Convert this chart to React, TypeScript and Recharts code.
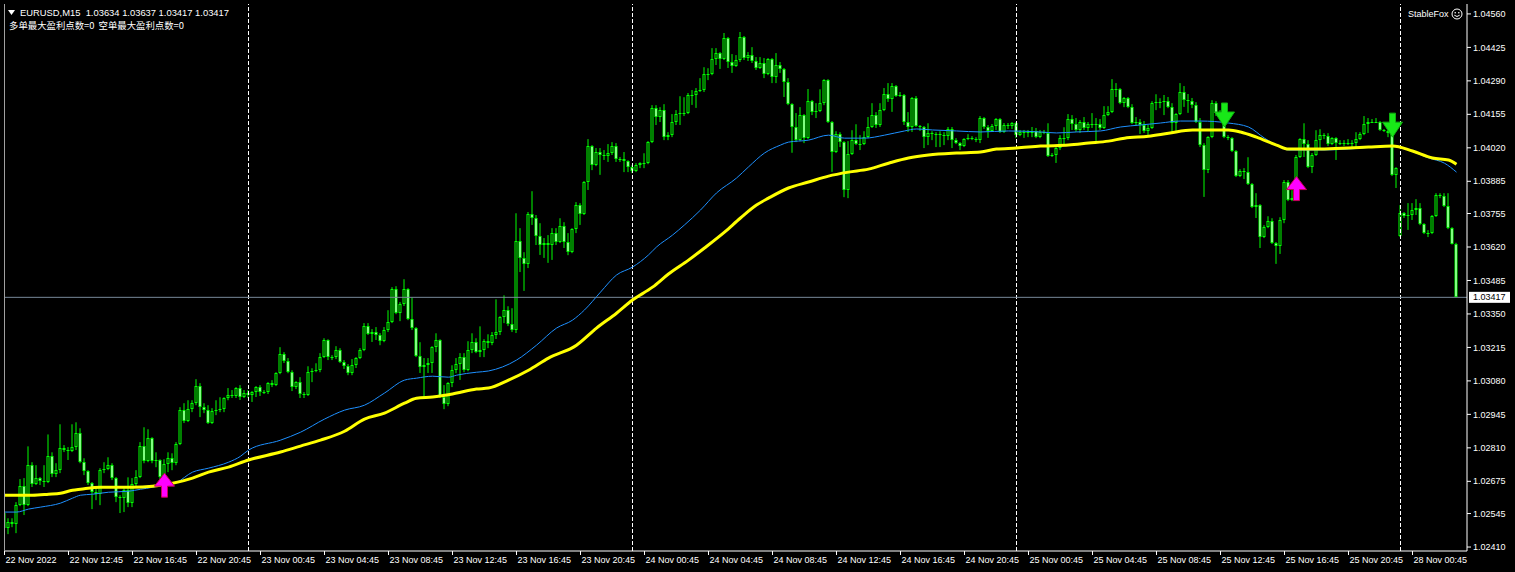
import { ComposedChart, XAxis, YAxis, Bar, Line, Scatter, ReferenceLine } from 'recharts';

// prices are stored as points: 1.0xxxx -> xxxx
const firstOpen = 2547;
const weekendGap: [number, number][] = [[349, 3664]];

const closes = [
  2486, 2510, 2502, 2579, 2656, 2579, 2740, 2664, 2688, 2676, 2672, 2776, 2704, 2720, 2809, 2801, 2797, 2813, 2869, 2752,
  2716, 2668, 2631, 2623, 2720, 2724, 2740, 2688, 2611, 2607, 2639, 2587, 2664, 2692, 2817, 2756, 2849, 2756, 2760, 2692,
  2744, 2768, 2748, 2825, 2962, 2918, 2966, 2990, 3059, 2974, 2962, 2910, 2958, 2962, 2966, 3010, 3023, 3019, 3051, 3015,
  3031, 3023, 3035, 3055, 3035, 3035, 3071, 3063, 3111, 3188, 3160, 3115, 3055, 3075, 3027, 3023, 3115, 3119, 3123, 3176,
  3244, 3176, 3176, 3204, 3156, 3140, 3111, 3144, 3172, 3204, 3301, 3269, 3277, 3265, 3240, 3285, 3317, 3450, 3353, 3390,
  3450, 3329, 3293, 3180, 3136, 3144, 3152, 3216, 3244, 3015, 2986, 3071, 3123, 3148, 3176, 3123, 3204, 3236, 3196, 3204,
  3240, 3232, 3265, 3277, 3337, 3365, 3309, 3285, 3644, 3575, 3551, 3753, 3737, 3664, 3628, 3636, 3628, 3676, 3640, 3704,
  3640, 3599, 3692, 3789, 3753, 3882, 4027, 3950, 4003, 3991, 3987, 3999, 4027, 3975, 3975, 3966, 3942, 3926, 3950, 3958,
  3958, 4043, 4180, 4144, 4172, 4063, 4071, 4124, 4156, 4160, 4160, 4233, 4233, 4249, 4253, 4317, 4317, 4378, 4402, 4378,
  4463, 4366, 4350, 4374, 4467, 4382, 4394, 4370, 4342, 4362, 4317, 4378, 4305, 4354, 4338, 4285, 4196, 4104, 4051, 4152,
  4059, 4209, 4164, 4168, 4200, 4293, 4124, 4003, 4075, 4043, 3849, 3995, 4051, 4035, 4035, 4063, 4104, 4152, 4112, 4172,
  4237, 4217, 4269, 4229, 4233, 4124, 4104, 4221, 4108, 4104, 4063, 4079, 4075, 4075, 4071, 4067, 4096, 4051, 4039, 4027,
  4055, 4059, 4055, 4051, 4140, 4104, 4088, 4108, 4136, 4084, 4112, 4108, 4120, 4071, 4084, 4084, 4079, 4088, 4063, 4084,
  4079, 3987, 3991, 4019, 4059, 4059, 4136, 4116, 4092, 4124, 4100, 4116, 4116, 4116, 4100, 4152, 4164, 4257, 4257, 4200,
  4221, 4184, 4120, 4124, 4112, 4088, 4100, 4200, 4204, 4204, 4209, 4184, 4120, 4156, 4245, 4213, 4209, 4192, 4124, 4031,
  3930, 4063, 4200, 4160, 4156, 4063, 4059, 4007, 3906, 3926, 3922, 3874, 3781, 3789, 3660, 3700, 3724, 3636, 3624, 3728,
  3882, 3809, 3817, 3983, 4055, 4035, 3942, 3991, 4051, 4071, 4067, 4035, 4059, 4039, 4039, 4035, 4039, 4039, 4055, 4075,
  4116, 4124, 4124, 4124, 4092, 4088, 4079, 3910, 3938, 3757, 3745, 3749, 3769, 3777, 3712, 3676, 3676, 3745, 3829, 3825,
  3785, 3696, 3634, 3417,
];

// wick lengths above / below the body, in points
const wickUp = [
  24, 16, 16, 12, 28, 32, 76, 12, 52, 4, 64, 88, 16, 28, 96, 12, 12, 92, 44, 20,
  16, 4, 4, 16, 8, 28, 32, 8, 4, 8, 8, 52, 24, 28, 16, 76, 36, 4, 32, 4,
  20, 24, 20, 8, 12, 28, 36, 12, 28, 12, 16, 20, 12, 40, 48, 4, 28, 20, 4, 12,
  12, 12, 4, 4, 8, 8, 4, 12, 4, 28, 8, 12, 8, 4, 20, 8, 24, 12, 28, 16,
  8, 4, 8, 16, 8, 8, 8, 24, 4, 8, 12, 12, 12, 20, 8, 12, 48, 8, 12, 8,
  40, 4, 88, 4, 56, 28, 20, 4, 28, 4, 48, 4, 20, 24, 16, 16, 36, 36, 16, 96,
  8, 28, 12, 132, 4, 60, 16, 64, 112, 52, 24, 8, 92, 12, 52, 20, 32, 20, 20, 32,
  16, 36, 4, 12, 8, 4, 28, 4, 16, 16, 20, 36, 16, 12, 8, 28, 4, 8, 8, 4,
  40, 4, 12, 12, 12, 24, 12, 32, 16, 68, 64, 8, 20, 12, 48, 28, 24, 44, 20, 4,
  20, 4, 32, 20, 20, 4, 12, 32, 16, 24, 20, 4, 4, 48, 12, 4, 16, 4, 56, 32,
  4, 48, 4, 32, 56, 4, 4, 4, 12, 8, 4, 52, 40, 64, 36, 24, 40, 48, 12, 28,
  24, 44, 12, 4, 12, 4, 40, 4, 8, 4, 4, 40, 8, 8, 12, 12, 8, 8, 8, 4,
  4, 16, 8, 8, 8, 4, 8, 8, 4, 4, 8, 8, 4, 4, 8, 8, 8, 16, 12, 8,
  8, 40, 8, 4, 12, 44, 20, 16, 24, 8, 20, 8, 44, 24, 20, 36, 24, 40, 24, 4,
  4, 4, 12, 20, 12, 16, 12, 8, 32, 16, 24, 16, 16, 4, 36, 24, 24, 12, 12, 16,
  8, 4, 12, 8, 12, 4, 8, 4, 4, 8, 12, 60, 4, 48, 4, 8, 20, 12, 4, 12,
  8, 8, 32, 8, 4, 64, 16, 8, 40, 24, 8, 12, 4, 4, 12, 12, 16, 12, 28, 8,
  32, 16, 12, 16, 4, 4, 4, 12, 4, 32, 4, 48, 28, 36, 20, 4, 12, 4, 8, 8,
  12, 52, 4, 3,
];

const wickDown = [
  20, 24, 12, 36, 4, 40, 4, 12, 4, 16, 20, 4, 12, 12, 12, 8, 36, 4, 12, 4,
  16, 8, 68, 24, 44, 12, 4, 8, 20, 60, 56, 16, 16, 12, 4, 8, 4, 8, 24, 12,
  4, 32, 28, 8, 4, 8, 4, 12, 8, 40, 12, 4, 4, 16, 8, 12, 8, 8, 8, 12,
  4, 12, 28, 20, 16, 8, 8, 8, 4, 4, 8, 4, 16, 8, 16, 12, 4, 40, 4, 8,
  4, 12, 12, 8, 4, 12, 8, 8, 12, 4, 4, 4, 32, 20, 16, 4, 8, 4, 4, 32,
  8, 4, 8, 4, 24, 120, 32, 40, 20, 4, 20, 8, 16, 12, 64, 8, 4, 12, 4, 20,
  28, 20, 8, 16, 12, 24, 8, 8, 12, 56, 108, 16, 28, 36, 40, 52, 72, 60, 12, 4,
  24, 12, 4, 16, 44, 4, 32, 20, 4, 80, 16, 24, 8, 12, 12, 44, 20, 8, 4, 12,
  20, 4, 4, 32, 20, 12, 12, 8, 12, 44, 12, 4, 40, 52, 4, 8, 24, 4, 24, 40,
  4, 24, 28, 4, 8, 8, 12, 8, 8, 4, 16, 4, 24, 24, 16, 60, 4, 104, 8, 4,
  20, 4, 12, 24, 4, 8, 4, 80, 4, 20, 28, 32, 4, 4, 24, 4, 4, 4, 12, 8,
  4, 12, 52, 4, 4, 12, 20, 20, 4, 16, 44, 32, 24, 52, 48, 36, 16, 32, 4, 16,
  4, 4, 4, 8, 12, 8, 28, 4, 16, 4, 4, 12, 12, 12, 4, 24, 16, 16, 4, 4,
  4, 4, 4, 32, 8, 24, 8, 24, 8, 12, 8, 16, 16, 72, 8, 4, 4, 4, 32, 4,
  16, 4, 4, 12, 36, 8, 16, 4, 28, 24, 52, 4, 36, 36, 4, 28, 48, 12, 4, 8,
  108, 12, 4, 12, 12, 4, 8, 4, 4, 4, 28, 4, 4, 44, 44, 4, 4, 4, 72, 32,
  12, 4, 4, 4, 4, 52, 4, 24, 4, 40, 12, 8, 4, 68, 8, 8, 4, 24, 20, 4,
  4, 36, 4, 4, 4, 4, 16, 4, 52, 4, 8, 56, 20, 20, 4, 4, 16, 4, 4, 8,
  4, 4, 4, 0,
];

// moving averages, [bar index, points]
const maYellow: [number, number][] = [
  [0, 2619], [7, 2619], [11, 2623], [14, 2627], [17, 2639], [19, 2643], [24, 2651], [32, 2651], [37, 2655], [42, 2667],
  [47, 2688], [51, 2712], [56, 2732], [61, 2761], [69, 2793], [74, 2817], [79, 2841], [85, 2877], [90, 2926], [95, 2950],
  [100, 2990], [103, 3010], [107, 3015], [112, 3027], [118, 3047], [121, 3051], [126, 3083], [131, 3123], [136, 3172], [143, 3224],
  [148, 3293], [153, 3353], [157, 3406], [162, 3458], [166, 3511], [171, 3567], [175, 3616], [180, 3680], [184, 3737], [188, 3789],
  [191, 3817], [196, 3858], [201, 3882], [206, 3906], [211, 3922], [216, 3934], [221, 3958], [226, 3979], [231, 3991], [238, 3999],
  [244, 4003], [248, 4015], [253, 4019], [259, 4027], [266, 4031], [271, 4039], [276, 4047], [280, 4059], [286, 4067], [291, 4079],
  [297, 4092], [306, 4092], [309, 4084], [313, 4063], [318, 4031], [321, 4015], [329, 4015], [336, 4019], [341, 4023], [347, 4027],
  [352, 4007], [357, 3979], [361, 3971], [363, 3954],
];

const maBlue: [number, number][] = [
  [0, 2551], [3, 2551], [6, 2563], [9, 2571], [14, 2587], [17, 2607], [19, 2619], [22, 2623], [26, 2631], [31, 2635],
  [34, 2643], [37, 2651], [39, 2659], [43, 2671], [47, 2712], [51, 2728], [56, 2752], [59, 2776], [61, 2801], [69, 2841],
  [74, 2873], [80, 2926], [85, 2962], [90, 2982], [95, 3031], [100, 3083], [103, 3091], [107, 3099], [111, 3095], [113, 3103],
  [118, 3115], [121, 3120], [128, 3164], [133, 3224], [138, 3293], [142, 3325], [145, 3366], [149, 3438], [153, 3507], [157, 3539],
  [161, 3588], [163, 3620], [167, 3668], [170, 3709], [174, 3769], [178, 3838], [183, 3898], [186, 3943], [190, 3999], [194, 4031],
  [196, 4043], [201, 4051], [206, 4071], [210, 4059], [215, 4059], [220, 4071], [225, 4088], [228, 4096], [232, 4092], [238, 4088],
  [244, 4084], [251, 4088], [259, 4084], [263, 4080], [268, 4084], [274, 4088], [279, 4104], [284, 4112], [289, 4120], [294, 4128],
  [299, 4128], [306, 4120], [311, 4104], [315, 4059], [319, 4023], [321, 4011], [329, 4011], [336, 4015], [346, 4027], [351, 4011],
  [356, 3979], [360, 3958], [363, 3922],
];

const buySignals: [number, number][] = [[40, 2708], [323, 3904]];
const sellSignals: [number, number][] = [[305, 4104], [347, 4063]];

const daySeparators = [61, 157, 253, 349];

const xTickIdx = [0, 16, 32, 48, 64, 80, 96, 112, 128, 144, 160, 176, 192, 208, 224, 240, 256, 272, 288, 304, 320, 336, 352];
const xTickText = [
  '22 Nov 2022', '22 Nov 12:45', '22 Nov 16:45', '22 Nov 20:45', '23 Nov 00:45', '23 Nov 04:45', '23 Nov 08:45',
  '23 Nov 12:45', '23 Nov 16:45', '23 Nov 20:45', '24 Nov 00:45', '24 Nov 04:45', '24 Nov 08:45', '24 Nov 12:45',
  '24 Nov 16:45', '24 Nov 20:45', '25 Nov 00:45', '25 Nov 04:45', '25 Nov 08:45', '25 Nov 12:45', '25 Nov 16:45',
  '25 Nov 20:45', '28 Nov 00:45',
];

const yTicks = [
  1.0456, 1.04425, 1.0429, 1.04155, 1.0402, 1.03885, 1.03755, 1.0362, 1.03485,
  1.0335, 1.03215, 1.0308, 1.02945, 1.0281, 1.02675, 1.02545, 1.0241,
];

const LIME = '#00ff00';
const FONT = '"Liberation Sans", Arial, sans-serif';
const px = (p: number) => 1 + p / 100000;

const bars = closes.map((c, i) => {
  const gap = weekendGap.find((g) => g[0] === i);
  const o = i === 0 ? firstOpen : gap ? gap[1] : closes[i - 1];
  const h = Math.max(o, c) + wickUp[i];
  const l = Math.min(o, c) - wickDown[i];
  return { i, o: px(o), h: px(h), l: px(l), c: px(c), range: [px(l), px(h)] };
});

const yellowData = maYellow.map(([i, p]) => ({ i, p: px(p) }));
const blueData = maBlue.map(([i, p]) => ({ i, p: px(p) }));
const buyData = buySignals.map(([i, p]) => ({ i, p: px(p) }));
const sellData = sellSignals.map(([i, p]) => ({ i, p: px(p) }));

const last = bars[bars.length - 1];

function Candle(props: any) {
  const { x, y, width, height, payload } = props;
  if (payload == null || height == null || isNaN(y)) return null;
  const cx = x + width / 2;
  const span = payload.h - payload.l;
  const k = span > 0 ? height / span : 0;
  const top = Math.round(y + (payload.h - Math.max(payload.o, payload.c)) * k);
  const bot = Math.max(Math.round(y + (payload.h - Math.min(payload.o, payload.c)) * k), top + 1);
  const bear = payload.c < payload.o;
  return (
    <g>
      <line x1={cx} x2={cx} y1={y} y2={y + height} stroke={LIME} strokeWidth={1} />
      <rect x={cx - 1.5} y={top} width={3} height={bot - top} fill={LIME} />
      {bot - top > 2 && (
        <rect x={cx - 0.5} y={top + 1} width={1} height={bot - top - 2} fill={bear ? '#ffffff' : '#000000'} />
      )}
    </g>
  );
}

function UpArrow(props: any) {
  const { cx, cy } = props;
  const pts = [
    [cx, cy], [cx + 10, cy + 13], [cx + 3, cy + 13], [cx + 3, cy + 24],
    [cx - 3, cy + 24], [cx - 3, cy + 13], [cx - 10, cy + 13],
  ].map((q) => q.join(',')).join(' ');
  return <polygon points={pts} fill="#ff00ff" stroke="#c8005a" strokeWidth={1} />;
}

function DownArrow(props: any) {
  const { cx, cy } = props;
  const pts = [
    [cx, cy], [cx - 10, cy - 15], [cx - 3, cy - 15], [cx - 3, cy - 24],
    [cx + 3, cy - 24], [cx + 3, cy - 15], [cx + 10, cy - 15],
  ].map((q) => q.join(',')).join(' ');
  return <polygon points={pts} fill="#18e818" stroke="#0fb00f" strokeWidth={1} />;
}

function XTick(props: any) {
  const { x, y, payload } = props;
  const label = xTickText[xTickIdx.indexOf(payload.value)];
  return (
    <g>
      <line x1={x} x2={x} y1={y} y2={y + 4} stroke="#ffffff" />
      <text x={x + 1} y={y + 12} fill="#ffffff" fontSize={9} fontFamily={FONT} textAnchor="start">
        {label}
      </text>
    </g>
  );
}

function YTick(props: any) {
  const { x, y, payload } = props;
  return (
    <g>
      <line x1={x} x2={x + 4} y1={y} y2={y} stroke="#ffffff" />
      <text x={x + 6} y={y} dy="0.35em" fill="#ffffff" fontSize={9} fontFamily={FONT} textAnchor="start">
        {payload.value.toFixed(5)}
      </text>
    </g>
  );
}

function PriceTag(props: any) {
  const vb = props.viewBox;
  if (!vb) return null;
  const x0 = vb.x + vb.width + 2;
  return (
    <g>
      <rect x={x0} y={vb.y - 5.5} width={41} height={11} fill="#ffffff" />
      <text x={x0 + 4} y={vb.y} dy="0.35em" fill="#000000" fontSize={9} fontFamily={FONT}>
        {last.c.toFixed(5)}
      </text>
    </g>
  );
}

export default function App() {
  return (
    <div style={{ position: 'absolute', left: 0, top: 0, width: 1515, height: 572, background: '#000', overflow: 'hidden' }}>
      <ComposedChart width={1515} height={572} data={bars} margin={{ top: 4, right: 0, bottom: 0, left: 4 }}>
        <XAxis
          type="number"
          dataKey="i"
          domain={[-0.125, 365.625]}
          allowDataOverflow
          ticks={xTickIdx}
          interval={0}
          tickSize={0}
          tickMargin={0}
          tickLine={false}
          tick={<XTick />}
          axisLine={{ stroke: '#ffffff' }}
          height={21}
        />
        <YAxis
          orientation="right"
          type="number"
          domain={[1.02394, 1.046]}
          allowDataOverflow
          ticks={yTicks}
          interval={0}
          tickSize={0}
          tickMargin={0}
          tickLine={false}
          tick={<YTick />}
          axisLine={{ stroke: '#ffffff' }}
          width={48}
        />
        {daySeparators.map((d) => (
          <ReferenceLine key={d} x={d} stroke="#ffffff" strokeDasharray="4 2" />
        ))}
        <ReferenceLine y={last.c} stroke="#778899" label={PriceTag} />
        <Bar dataKey="range" barSize={3} shape={<Candle />} isAnimationActive={false} />
        <Line data={blueData} dataKey="p" type="monotone" stroke="#1e90ff" strokeWidth={1} dot={false} isAnimationActive={false} />
        <Line data={yellowData} dataKey="p" type="monotone" stroke="#ffff00" strokeWidth={3} dot={false} isAnimationActive={false} />
        <Scatter data={buyData} dataKey="p" shape={<UpArrow />} isAnimationActive={false} />
        <Scatter data={sellData} dataKey="p" shape={<DownArrow />} isAnimationActive={false} />
      </ComposedChart>

      <div style={{ position: 'absolute', left: 4, top: 4, width: 1, height: 547, background: '#a0a0a0' }} />

      <svg style={{ position: 'absolute', left: 8, top: 10 }} width={8} height={6}>
        <polygon points="0,0 7,0 3.5,5" fill="#ffffff" />
      </svg>
      <div style={{ position: 'absolute', left: 20, top: 7, font: `9.4px ${FONT}`, lineHeight: '12px', color: '#fff', whiteSpace: 'pre' }}>
        {`EURUSD,M15  ${last.o.toFixed(5)} ${last.h.toFixed(5)} ${last.l.toFixed(5)} ${last.c.toFixed(5)}`}
      </div>
      <div style={{ position: 'absolute', left: 9, top: 19, font: '9.4px "Noto Sans CJK SC", sans-serif', lineHeight: '12px', color: '#fff', whiteSpace: 'pre' }}>
        {'多单最大盈利点数=0  空单最大盈利点数=0'}
      </div>
      <div style={{ position: 'absolute', left: 1408, top: 8, font: `9px ${FONT}`, lineHeight: '12px', color: '#fff', whiteSpace: 'pre' }}>
        StableFox
      </div>
      <svg style={{ position: 'absolute', left: 1451, top: 8 }} width={12} height={12}>
        <circle cx={6} cy={6} r={5} fill="none" stroke="#ffffff" strokeWidth={1} />
        <circle cx={4.2} cy={4.8} r={0.8} fill="#ffffff" />
        <circle cx={7.8} cy={4.8} r={0.8} fill="#ffffff" />
        <path d="M3.3 7.2 Q6 9.8 8.7 7.2" fill="none" stroke="#ffffff" strokeWidth={1} />
      </svg>
    </div>
  );
}
